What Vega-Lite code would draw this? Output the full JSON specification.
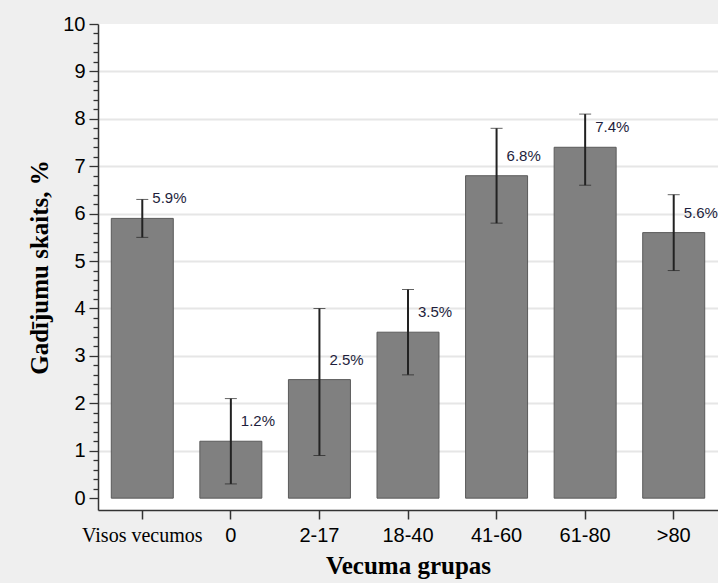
{
  "$schema": "https://vega.github.io/schema/vega-lite/v6.json",
  "width": 620,
  "height": 486,
  "autosize": "none",
  "padding": {"left": 98, "top": 24, "right": 0, "bottom": 73},
  "background": "#efefef",
  "data": {"values": [
    {"grupa": "Visos vecumos", "v": 5.9, "lo": 5.5, "hi": 6.3, "lbl": "5.9%"},
    {"grupa": "0", "v": 1.2, "lo": 0.3, "hi": 2.1, "lbl": "1.2%"},
    {"grupa": "2-17", "v": 2.5, "lo": 0.9, "hi": 4.0, "lbl": "2.5%"},
    {"grupa": "18-40", "v": 3.5, "lo": 2.6, "hi": 4.4, "lbl": "3.5%"},
    {"grupa": "41-60", "v": 6.8, "lo": 5.8, "hi": 7.8, "lbl": "6.8%"},
    {"grupa": "61-80", "v": 7.4, "lo": 6.6, "hi": 8.1, "lbl": "7.4%"},
    {"grupa": ">80", "v": 5.6, "lo": 4.8, "hi": 6.4, "lbl": "5.6%"}
  ]},
  "config": {"view": {"stroke": null, "fill": "white"}},
  "encoding": {
    "x": {
      "field": "grupa", "type": "nominal", "sort": null,
      "scale": {"paddingInner": 0.3, "paddingOuter": 0.15},
      "axis": {
        "title": "Vecuma grupas", "labelAngle": 0,
        "titleFont": "Liberation Serif", "titleFontSize": 25, "titleFontWeight": "bold", "titleColor": "black", "titlePadding": 8,
        "labelFont": {"condition": {"test": "datum.value == 'Visos vecumos'", "value": "Liberation Serif"}, "value": "Liberation Sans"},
        "labelFontSize": {"condition": {"test": "datum.value == 'Visos vecumos'", "value": 20}, "value": 20},
        "labelColor": "black", "labelPadding": 6,
        "domainColor": "#333", "domainWidth": 1.5, "tickColor": "#333", "tickSize": 9, "tickWidth": 1.5
      }
    }
  },
  "layer": [
    {
      "mark": {"type": "bar", "color": "#808080", "stroke": "#5a5a5a", "strokeWidth": 1},
      "encoding": {
        "y": {
          "field": "v", "type": "quantitative",
          "scale": {"domain": [-0.25, 10], "nice": false, "zero": false},
          "axis": {
            "title": "Gadījumu skaits, %",
            "titleFont": "Liberation Serif", "titleFontSize": 25, "titleFontWeight": "bold", "titleColor": "black", "titlePadding": 10,
            "values": [0,0.2,0.4,0.6,0.8,1,1.2,1.4,1.6,1.8,2,2.2,2.4,2.6,2.8,3,3.2,3.4,3.6,3.8,4,4.2,4.4,4.6,4.8,5,5.2,5.4,5.6,5.8,6,6.2,6.4,6.6,6.8,7,7.2,7.4,7.6,7.8,8,8.2,8.4,8.6,8.8,9,9.2,9.4,9.6,9.8,10],
            "labelExpr": "abs(datum.value - round(datum.value)) < 0.01 ? format(datum.value, 'd') : ''",
            "labelFont": "Liberation Sans", "labelFontSize": 20, "labelColor": "black", "labelPadding": 4,
            "tickSize": {"condition": {"test": "abs(datum.value - round(datum.value)) < 0.01", "value": 9}, "value": 5},
            "tickColor": "#333", "tickWidth": 1.3,
            "domainColor": "#333", "domainWidth": 1.5,
            "grid": true,
            "gridColor": "#e6e6e6", "gridWidth": 2,
            "gridOpacity": {"condition": {"test": "abs(datum.value - round(datum.value)) < 0.01 && datum.value > 0 && datum.value < 10", "value": 1}, "value": 0}
          }
        }
      }
    },
    {
      "mark": {"type": "errorbar", "ticks": {"color": "#222", "strokeWidth": 2, "size": 12}, "rule": {"color": "#222", "strokeWidth": 2}},
      "encoding": {
        "y": {
          "field": "lo", "type": "quantitative",
          "axis": {
            "title": "Gadījumu skaits, %",
            "titleFont": "Liberation Serif", "titleFontSize": 25, "titleFontWeight": "bold", "titleColor": "black", "titlePadding": 10,
            "values": [0,0.2,0.4,0.6,0.8,1,1.2,1.4,1.6,1.8,2,2.2,2.4,2.6,2.8,3,3.2,3.4,3.6,3.8,4,4.2,4.4,4.6,4.8,5,5.2,5.4,5.6,5.8,6,6.2,6.4,6.6,6.8,7,7.2,7.4,7.6,7.8,8,8.2,8.4,8.6,8.8,9,9.2,9.4,9.6,9.8,10],
            "labelExpr": "abs(datum.value - round(datum.value)) < 0.01 ? format(datum.value, 'd') : ''",
            "labelFont": "Liberation Sans", "labelFontSize": 20, "labelColor": "black", "labelPadding": 4,
            "tickSize": {"condition": {"test": "abs(datum.value - round(datum.value)) < 0.01", "value": 9}, "value": 5},
            "tickColor": "#333", "tickWidth": 1.3,
            "domainColor": "#333", "domainWidth": 1.5,
            "grid": true,
            "gridColor": "#e6e6e6", "gridWidth": 2,
            "gridOpacity": {"condition": {"test": "abs(datum.value - round(datum.value)) < 0.01 && datum.value > 0 && datum.value < 10", "value": 1}, "value": 0}
          }
        },
        "y2": {"field": "hi"}
      }
    },
    {
      "mark": {"type": "text", "align": "left", "baseline": "middle", "dx": 10, "dy": -20, "font": "Liberation Sans", "fontSize": 15, "color": "#1e1e3c"},
      "encoding": {
        "y": {
          "field": "v", "type": "quantitative",
          "axis": {
            "title": "Gadījumu skaits, %",
            "titleFont": "Liberation Serif", "titleFontSize": 25, "titleFontWeight": "bold", "titleColor": "black", "titlePadding": 10,
            "values": [0,0.2,0.4,0.6,0.8,1,1.2,1.4,1.6,1.8,2,2.2,2.4,2.6,2.8,3,3.2,3.4,3.6,3.8,4,4.2,4.4,4.6,4.8,5,5.2,5.4,5.6,5.8,6,6.2,6.4,6.6,6.8,7,7.2,7.4,7.6,7.8,8,8.2,8.4,8.6,8.8,9,9.2,9.4,9.6,9.8,10],
            "labelExpr": "abs(datum.value - round(datum.value)) < 0.01 ? format(datum.value, 'd') : ''",
            "labelFont": "Liberation Sans", "labelFontSize": 20, "labelColor": "black", "labelPadding": 4,
            "tickSize": {"condition": {"test": "abs(datum.value - round(datum.value)) < 0.01", "value": 9}, "value": 5},
            "tickColor": "#333", "tickWidth": 1.3,
            "domainColor": "#333", "domainWidth": 1.5,
            "grid": true,
            "gridColor": "#e6e6e6", "gridWidth": 2,
            "gridOpacity": {"condition": {"test": "abs(datum.value - round(datum.value)) < 0.01 && datum.value > 0 && datum.value < 10", "value": 1}, "value": 0}
          }
        },
        "text": {"field": "lbl"}
      }
    }
  ]
}
